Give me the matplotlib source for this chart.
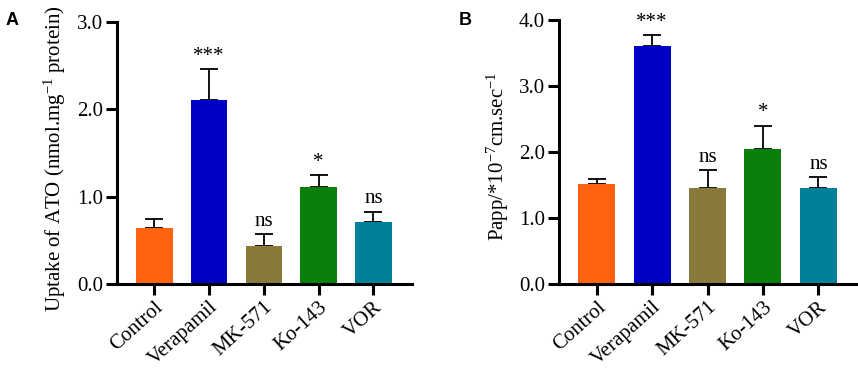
from matplotlib import pyplot as plt
import numpy as np

# Data
groups = ['Control', 'Verapamil', 'MK-571', 'Ko-143', 'VOR']
colors = ['#FF6310', '#0000C4', '#8A7A3A', '#0A7F0A', '#00809A']

uptake_mean = [0.64, 2.11, 0.44, 1.11, 0.71]
uptake_err = [0.10, 0.35, 0.13, 0.14, 0.12]
uptake_sig = ['', '***', 'ns', '*', 'ns']

papp_mean = [1.51, 3.60, 1.45, 2.04, 1.46]
papp_err = [0.08, 0.17, 0.27, 0.36, 0.16]
papp_sig = ['', '***', 'ns', '*', 'ns']

plt.rcParams['font.family'] = ['Liberation Serif', 'DejaVu Serif']
plt.rcParams['mathtext.fontset'] = 'custom'
plt.rcParams['mathtext.rm'] = 'Liberation Serif'
plt.rcParams['mathtext.it'] = 'Liberation Serif:italic'
plt.rcParams['mathtext.default'] = 'rm'


def bar_panel(ax, means, errs, sigs, ymax, ylabel, label_xy, letter,
              letter_x):
    x = np.arange(len(groups))
    ax.bar(x, means, width=0.67, color=colors, zorder=2)
    ax.errorbar(x, means, yerr=[np.zeros(len(errs)), errs], fmt='none',
                ecolor='black', elinewidth=1.3, capsize=6.5, capthick=1.3,
                zorder=1)
    for xi, m, e, s in zip(x, means, errs, sigs):
        if s:
            ax.text(xi, m + e + ymax * 0.012, s, ha='center', va='bottom',
                    fontsize=15)
    ax.set_xlim(-0.68, 4.70)
    ax.set_ylim(0, ymax)
    ticks = np.arange(0, ymax + 0.01, 1.0)
    ax.set_yticks(ticks)
    ax.set_yticklabels(['{:.1f}'.format(v) for v in ticks])
    ax.set_xticks(x)
    ax.set_xticklabels(groups, rotation=42, ha='right',
                       rotation_mode='anchor')
    ax.spines['top'].set_visible(False)
    ax.spines['right'].set_visible(False)
    for sp in ['left', 'bottom']:
        ax.spines[sp].set_linewidth(2.2)
    ax.tick_params(axis='both', width=2.2, length=8, labelsize=15,
                   direction='out', pad=2)
    fig = ax.figure
    fig.text(label_xy[0], label_xy[1], ylabel, fontsize=15, rotation=90,
             ha='center', va='center')
    fig.text(letter_x, 0.968, letter, fontsize=13, fontweight='bold',
             family='Liberation Sans', va='top')


fig = plt.figure(figsize=(8.58, 3.77), dpi=100)
ax1 = fig.add_axes([0.1364, 0.2467, 0.3436, 0.6949])
ax2 = fig.add_axes([0.6515, 0.2467, 0.3475, 0.7003])

bar_panel(ax1, uptake_mean, uptake_err, uptake_sig, 3.0,
          r'Uptake of ATO (nmol.mg$^{-1}$ protein)', (0.064, 0.58),
          'A', 0.006)
bar_panel(ax2, papp_mean, papp_err, papp_sig, 4.0,
          r'Papp/*10$^{-7}$cm.sec$^{-1}$', (0.580, 0.585),
          'B', 0.535)

fig.savefig('out.png', dpi=100)
